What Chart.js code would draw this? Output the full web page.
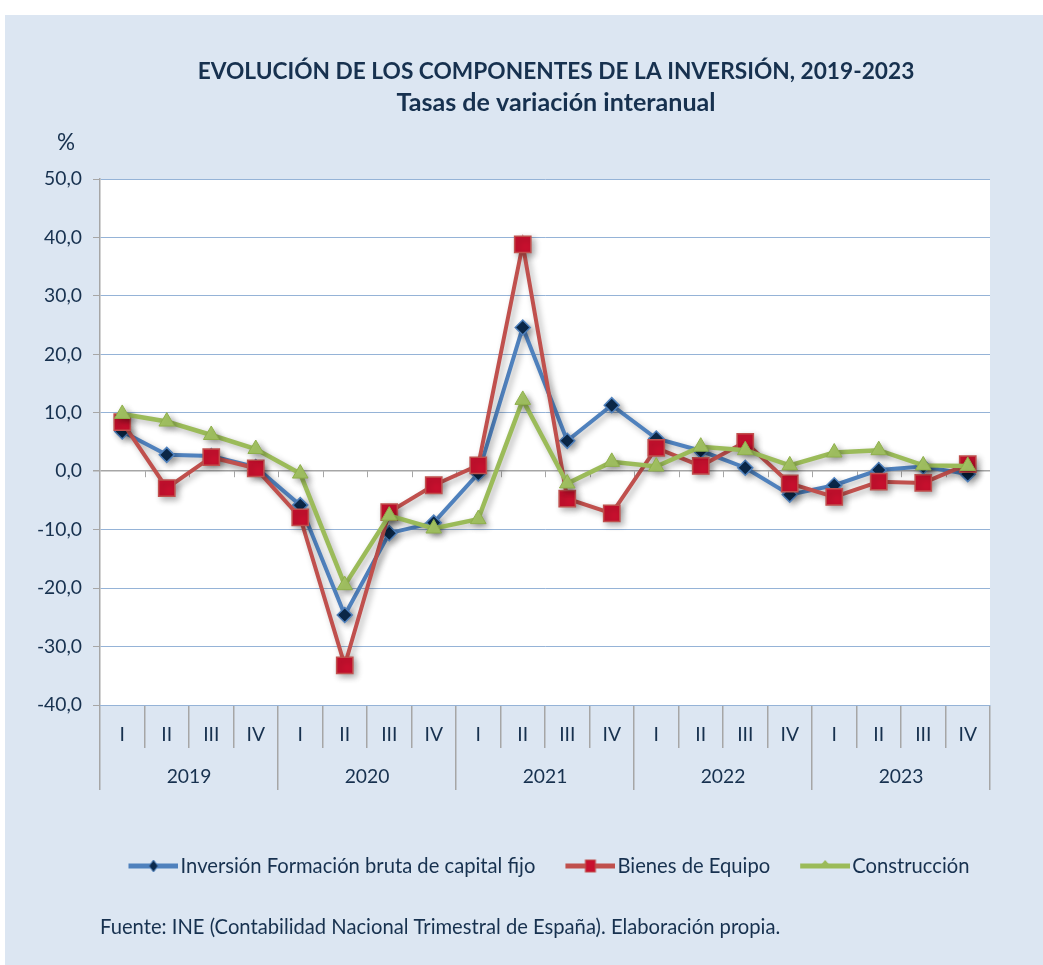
<!DOCTYPE html>
<html lang="es"><head><meta charset="utf-8">
<title>Evolución de los componentes de la inversión</title>
<script src="https://cdn.jsdelivr.net/npm/chart.js@4.4.1/dist/chart.umd.min.js"></script>
<style>
html,body{margin:0;padding:0;background:#ffffff;overflow:hidden;}
#box{position:relative;width:1043px;height:965px;}
canvas{display:block;}
</style></head>
<body><div id="box"><canvas id="chart" width="1043" height="965"></canvas></div>
<script>
// ---------------- data ----------------
const quarters = ['I','II','III','IV','I','II','III','IV','I','II','III','IV','I','II','III','IV','I','II','III','IV'];
const years = ['2019','2020','2021','2022','2023'];
const yTickValues = [-40,-30,-20,-10,0,10,20,30,40,50];
const seriesNames = ['Inversión Formación bruta de capital fijo','Bienes de Equipo','Construcción'];
const inversion    = [6.8, 2.8, 2.6, 0.7, -5.8, -24.6, -10.6, -8.8, -0.4, 24.6, 5.2, 11.3, 5.6, 3.5, 0.6, -4.0, -2.4, 0.2, 0.8, -0.5];
const bienesEquipo = [8.4, -2.9, 2.4, 0.5, -7.9, -33.2, -7.0, -2.4, 1.0, 38.8, -4.7, -7.2, 4.0, 0.9, 5.0, -2.1, -4.4, -1.8, -2.0, 1.2];
const construccion = [9.8, 8.5, 6.2, 3.8, -0.4, -19.5, -7.6, -9.8, -8.2, 12.2, -2.1, 1.6, 0.8, 4.2, 3.6, 1.0, 3.2, 3.6, 1.0, 0.9];
const titleLines = ['EVOLUCIÓN DE LOS COMPONENTES DE LA INVERSIÓN, 2019-2023', 'Tasas de variación interanual'];
const unitLabel = '%';
const sourceText = 'Fuente: INE (Contabilidad Nacional Trimestral de España). Elaboración propia.';

// ---------------- styles ----------------
const FONT = 'Lato, "Noto Sans", "DejaVu Sans", sans-serif';
const TXT = '#17314f';
const PANEL = '#dce6f2';
const GRID = '#95b3d7';
const AXIS = '#a6a6a6';
const BLUE = '#4f81bd', RED = '#c0504d', GREEN = '#9bbb59';

const mctx = document.createElement('canvas').getContext('2d');
function fitSize(text, weight, target) {
  mctx.font = weight + ' 100px ' + FONT;
  return Math.round(100 * target / mctx.measureText(text).width * 10) / 10;
}
const titleSize1 = fitSize(titleLines[0], 'bold', 718);
const titleSize2 = fitSize(titleLines[1], 'bold', 319);
const tickSize = fitSize('50,0', 'normal', 38);
const unitSize = fitSize(unitLabel, 'normal', 18);
const legendSize = fitSize(seriesNames[0], 'normal', 355);
const sourceSize = fitSize(sourceText, 'normal', 682);

// legend geometry
const legendPad = 8;
const boxW = Math.round(82 - legendSize / 2 - legendPad);
const iconW = Math.round(boxW + legendSize - 4);
const legendShift = -7;

// legend icons: line with marker in its middle
function makeIcon(kind) {
  const W = iconW, H = 20, c = document.createElement('canvas');
  c.width = W; c.height = H;
  const g = c.getContext('2d');
  const cx = W - 25, cy = H / 2;
  g.lineWidth = 5;
  g.strokeStyle = kind === 'd' ? BLUE : kind === 's' ? RED : GREEN;
  g.beginPath(); g.moveTo(W - 50, cy); g.lineTo(W, cy); g.stroke();
  g.lineWidth = 1;
  if (kind === 'd') {
    g.fillStyle = '#0c2a4c'; g.strokeStyle = BLUE;
    g.beginPath(); g.moveTo(cx, cy - 6); g.lineTo(cx + 4.5, cy); g.lineTo(cx, cy + 6); g.lineTo(cx - 4.5, cy); g.closePath(); g.fill(); g.stroke();
  } else if (kind === 's') {
    g.fillStyle = '#c8102e'; g.strokeStyle = RED;
    g.fillRect(cx - 5, cy - 6, 10, 12); g.strokeRect(cx - 5, cy - 6, 10, 12);
  } else {
    g.fillStyle = '#9bbb59';
    g.beginPath(); g.moveTo(cx, cy - 6); g.lineTo(cx + 7, cy + 2); g.lineTo(cx - 7, cy + 2); g.closePath(); g.fill();
  }
  return c;
}
const icons = [makeIcon('d'), makeIcon('s'), makeIcon('t')];

const legendTop = 866 - legendPad - legendSize / 2;
const x2Height = legendTop - 748;
const bottomPad = 965 - legendTop - (legendSize + legendPad + 10);

const decorPlugin = {
  id: 'decor',
  afterLayout(chart) {
    const lg = chart.legend;
    if (lg) { lg.left += legendShift; lg.right += legendShift; }
  },
  beforeDraw(chart) {
    const {ctx, chartArea: a} = chart;
    ctx.save();
    ctx.fillStyle = '#ffffff'; ctx.fillRect(0, 0, chart.width, chart.height);
    ctx.fillStyle = PANEL; ctx.fillRect(5, 15, chart.width - 5, chart.height - 15);
    ctx.fillStyle = '#ffffff'; ctx.fillRect(a.left, a.top, a.right - a.left, a.bottom - a.top);
    ctx.restore();
  },
  beforeDatasetsDraw(chart) {
    const {ctx, scales: {x, y}} = chart;
    const y0 = y.getPixelForValue(0);
    ctx.save();
    ctx.strokeStyle = AXIS; ctx.lineWidth = 1;
    for (let i = 1; i < quarters.length; i++) {
      const px = Math.round((x.getPixelForTick(i - 1) + x.getPixelForTick(i)) / 2) + 0.5;
      ctx.beginPath(); ctx.moveTo(px, y0); ctx.lineTo(px, y0 + 6); ctx.stroke();
    }
    ctx.restore();
    ctx.save();
    ctx.shadowColor = 'rgba(0,0,0,0.3)';
    ctx.shadowBlur = 6; ctx.shadowOffsetX = 3; ctx.shadowOffsetY = 3;
  },
  afterDatasetsDraw(chart) {
    chart.ctx.restore();
  },
  afterDraw(chart) {
    const {ctx, chartArea: a} = chart;
    ctx.save();
    ctx.fillStyle = TXT;
    ctx.textBaseline = 'middle';
    ctx.textAlign = 'center';
    ctx.font = 'bold ' + titleSize1 + 'px ' + FONT;
    ctx.fillText(titleLines[0], 556, 72);
    ctx.font = 'bold ' + titleSize2 + 'px ' + FONT;
    ctx.fillText(titleLines[1], 556, 103);
    ctx.font = unitSize + 'px ' + FONT;
    ctx.fillText(unitLabel, 66, 143);
    ctx.textAlign = 'left';
    ctx.font = sourceSize + 'px ' + FONT;
    ctx.fillText(sourceText, a.left, 927);
    ctx.restore();
  }
};

const zeroPad = s => { s.paddingTop = 0; s.paddingBottom = 0; s.paddingLeft = 0; s.paddingRight = 0; };

new Chart(document.getElementById('chart'), {
  type: 'line',
  plugins: [decorPlugin],
  data: {
    labels: quarters,
    datasets: [
      { label: seriesNames[0], data: inversion, order: 3,
        borderColor: BLUE, borderWidth: 4, tension: 0,
        pointStyle: 'rectRot', pointRadius: 7.5, pointHoverRadius: 7.5,
        pointBackgroundColor: '#0c2a4c', pointBorderColor: BLUE, pointBorderWidth: 1.5 },
      { label: seriesNames[1], data: bienesEquipo, order: 2,
        borderColor: RED, borderWidth: 4, tension: 0,
        pointStyle: 'rect', pointRadius: 11.5, pointHoverRadius: 11.5,
        pointBackgroundColor: '#c8102e', pointBorderColor: RED, pointBorderWidth: 1.5 },
      { label: seriesNames[2], data: construccion, order: 1,
        borderColor: GREEN, borderWidth: 4.5, tension: 0,
        pointStyle: 'triangle', pointRadius: 9, pointHoverRadius: 9,
        pointBackgroundColor: '#a4c463', pointBorderColor: '#8fb04c', pointBorderWidth: 1 }
    ]
  },
  options: {
    responsive: false,
    animation: false,
    devicePixelRatio: 1,
    layout: { padding: { left: 0, right: 53, top: 179, bottom: bottomPad } },
    plugins: {
      title: { display: false },
      tooltip: { enabled: false },
      legend: {
        position: 'bottom',
        fullSize: false,
        labels: {
          usePointStyle: true,
          pointStyleWidth: boxW,
          padding: legendPad,
          color: TXT,
          font: { family: FONT, size: legendSize },
          generateLabels: chart => chart.data.datasets.map((ds, i) => ({
            text: ds.label, pointStyle: icons[i], datasetIndex: i, hidden: false,
            fontColor: TXT, lineWidth: 0, strokeStyle: 'rgba(0,0,0,0)', fillStyle: 'rgba(0,0,0,0)'
          }))
        }
      }
    },
    scales: {
      y: {
        min: -40, max: 50,
        afterBuildTicks: s => { s.ticks = yTickValues.map(v => ({ value: v })); },
        afterFit: s => { s.width = 100; zeroPad(s); },
        ticks: {
          color: TXT, padding: 11,
          font: { family: FONT, size: tickSize },
          callback: v => Number(v).toFixed(1).replace('.', ',')
        },
        grid: {
          color: c => (c.tick && c.tick.value === 0) ? AXIS : GRID,
          lineWidth: c => (c.tick && c.tick.value === 0) ? 1.5 : 1,
          drawTicks: true, tickLength: 7, tickColor: AXIS
        },
        border: { display: true, color: AXIS, width: 1.5 }
      },
      x: {
        type: 'category',
        offset: true,
        weight: 0,
        afterFit: s => { s.height = 43; zeroPad(s); },
        ticks: {
          color: TXT, padding: -25, maxRotation: 0, autoSkip: false,
          font: { family: FONT, size: tickSize }
        },
        grid: { offset: true, drawOnChartArea: false, drawTicks: true, tickLength: 43, color: AXIS, lineWidth: 1.5 },
        border: { display: true, color: GRID, width: 1 }
      },
      x2: {
        type: 'category',
        labels: years,
        position: 'bottom',
        offset: true,
        weight: 1,
        afterFit: s => { s.height = x2Height; zeroPad(s); },
        ticks: {
          color: TXT, padding: -25, maxRotation: 0, autoSkip: false,
          font: { family: FONT, size: tickSize }
        },
        grid: { offset: true, drawOnChartArea: false, drawTicks: true, tickLength: 42, color: AXIS, lineWidth: 1.5 },
        border: { display: false }
      }
    }
  }
});
</script>
</body></html>
